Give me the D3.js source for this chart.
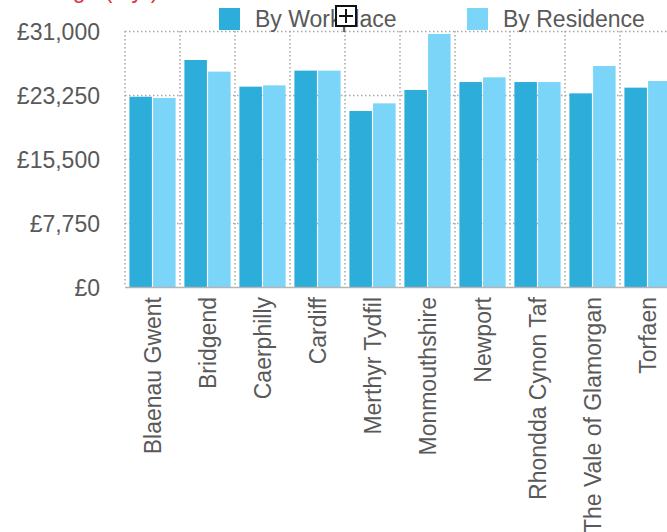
<!DOCTYPE html>
<html>
<head>
<meta charset="utf-8">
<script src="https://cdn.jsdelivr.net/npm/d3@7"></script>
<style>
  body { margin: 0; background: #fff; }
  text { font-family: "Liberation Sans", Arial, Helvetica, sans-serif; }
</style>
</head>
<body>
<svg id="chart" width="667" height="532"></svg>
<script>
// Median pay by local authority
const areas = ["Blaenau Gwent", "Bridgend", "Caerphilly", "Cardiff", "Merthyr Tydfil",
               "Monmouthshire", "Newport", "Rhondda Cynon Taf", "The Vale of Glamorgan", "Torfaen"];
const byWorkplace = [23040, 27490, 24260, 26200, 21310, 23860, 24820, 24820, 23450, 24140];
const byResidence = [22890, 26080, 24420, 26200, 22240, 30640, 25390, 24820, 26760, 24940];
const seriesNames = ["By Workplace", "By Residence"];
const yTicks = [0, 7750, 15500, 23250, 31000];

const colors = ["#2cadda", "#7bd5f8"];

const svg = d3.select("#chart");
const plotLeft = 125, plotRight = 675, plotTop = 31, plotBottom = 287;

const x0 = d3.scaleBand().domain(areas).range([plotLeft, plotRight])
    .paddingInner(0.16).paddingOuter(0.08);
const x1 = d3.scaleBand().domain(seriesNames).range([0, x0.bandwidth()]).paddingInner(0.05);
const y = d3.scaleLinear().domain([0, 31000]).range([plotBottom, plotTop]);

const off = x0.step() * 0.08;

// grid
const grid = svg.append("g")
    .attr("stroke", "#a8a8a8")
    .attr("stroke-width", 1.5)
    .attr("stroke-dasharray", "1.5,2.5");
grid.selectAll(".hg").data(yTicks.filter(d => d > 0)).enter().append("line")
    .attr("x1", plotLeft).attr("x2", 667)
    .attr("y1", d => Math.round(y(d)) + 0.5).attr("y2", d => Math.round(y(d)) + 0.5);
grid.selectAll(".vg").data(areas).enter().append("line")
    .attr("x1", d => x0(d) - off).attr("x2", d => x0(d) - off)
    .attr("y1", plotTop).attr("y2", plotBottom);

// bars
const rows = areas.map((a, i) => ({ area: a, vals: [byWorkplace[i], byResidence[i]] }));
const groups = svg.selectAll(".grp").data(rows).enter().append("g")
    .attr("transform", d => `translate(${x0(d.area)},0)`);
groups.selectAll("rect")
    .data(d => d.vals.map((v, k) => ({ k: k, v: v })))
    .enter().append("rect")
    .attr("x", d => x1(seriesNames[d.k]))
    .attr("width", x1.bandwidth())
    .attr("y", d => y(d.v))
    .attr("height", d => plotBottom - y(d.v))
    .attr("fill", d => colors[d.k]);

// baseline
svg.append("line")
    .attr("x1", plotLeft).attr("x2", 667)
    .attr("y1", plotBottom + 0.5).attr("y2", plotBottom + 0.5)
    .attr("stroke", "#b5b5b5").attr("stroke-width", 1.5);

// y axis labels
svg.selectAll(".ylab").data(yTicks).enter().append("text")
    .attr("x", 100).attr("y", d => y(d) + 1)
    .attr("dy", "0.35em")
    .attr("text-anchor", "end")
    .attr("fill", "#595959")
    .style("font-size", "23px")
    .text(d => "£" + d3.format(",")(d));

// x axis labels
svg.selectAll(".xlab").data(areas).enter().append("text")
    .attr("transform", d => `translate(${x0(d) + x0.bandwidth() / 2},297) rotate(-90)`)
    .attr("dy", "0.35em")
    .attr("text-anchor", "end")
    .attr("fill", "#595959")
    .style("font-size", "23px")
    .text(d => d);

// legend
const legendX = [219, 467];
const legend = svg.selectAll(".leg").data(seriesNames).enter().append("g")
    .attr("transform", (d, i) => `translate(${legendX[i]},0)`);
legend.append("rect")
    .attr("x", 0).attr("y", 8).attr("width", 21).attr("height", 22)
    .attr("fill", (d, i) => colors[i]);
legend.append("text")
    .attr("x", 36).attr("y", 27)
    .attr("fill", "#595959")
    .style("font-size", "23px")
    .text(d => d);

// cursor glyph sitting over the legend in the screenshot
const cur = svg.append("g").attr("transform", "translate(336,6)");
cur.append("rect").attr("width", 20).attr("height", 20)
    .attr("fill", "#fff").attr("stroke", "#111").attr("stroke-width", 2);
cur.append("path").attr("d", "M10,3V17M3,10H17")
    .attr("stroke", "#111").attr("stroke-width", 2);

// title, mostly cut off at the top edge
svg.append("text")
    .attr("x", 13).attr("y", -2)
    .attr("fill", "#e03040")
    .style("font-size", "23px")
    .text("Average (£/yr)");
</script>
</body>
</html>
